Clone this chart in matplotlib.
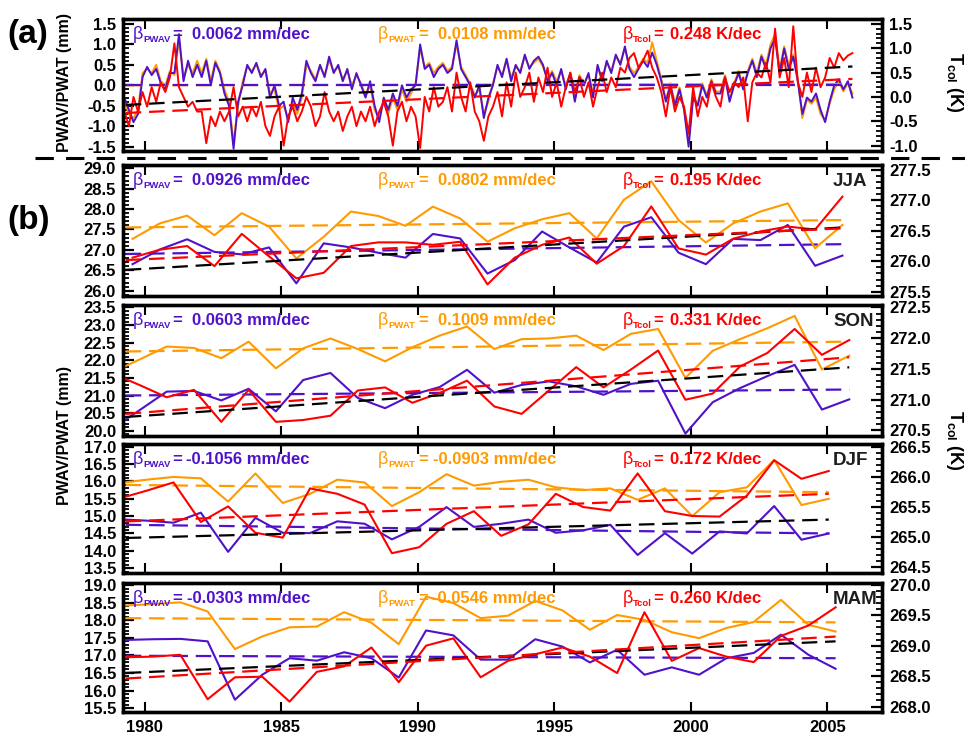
import numpy as np
import matplotlib
matplotlib.use('Agg')
import matplotlib.pyplot as plt
from matplotlib.lines import Line2D
from matplotlib.ticker import MultipleLocator, FormatStrFormatter

plt.rcParams['font.family'] = ['Liberation Sans', 'DejaVu Sans']
plt.rcParams['font.weight'] = 'bold'
plt.rcParams['mathtext.fontset'] = 'custom'
plt.rcParams['mathtext.rm'] = 'Liberation Sans'
plt.rcParams['mathtext.bf'] = 'Liberation Sans:bold'
plt.rcParams['mathtext.it'] = 'Liberation Sans:italic'

# ---------------- data ----------------
years = list(range(1979, 2006))
son_years = list(range(1978, 2006))

# Panel (a): bi-monthly anomalies 1979-2005
a_pwav = [
    -0.2, -0.3, -0.6, -0.9, -0.7, 0.2,
    0.45, 0.25, 0.4, 0.05, -0.1, 0.3,
    0.3, 1.25, 0.1, 0.6, 0.2, 0.5,
    0.2, 0.6, 0.0, 0.55, 0.3, -0.2,
    -0.5, -1.55, -0.4, 0.0, 0.5, 0.3,
    0.55, 0.2, 0.4, -0.3, 0.0, -0.5,
    -0.4, -0.9, -0.3, -0.6, -0.2, 0.6,
    0.3, 0.1, 0.5, 0.2, 0.7, 0.3,
    0.5, 0.1, 0.4, -0.1, 0.3, 0.0,
    -0.3, 0.1, -0.5, -0.9, -0.3, -0.6,
    -0.2, -0.5, 0.0, -0.3, -0.1, 0.0,
    1.0, 0.4, 0.5, 0.2, 0.4, 0.5,
    0.3, 0.4, 1.1, 0.4, 0.2, 0.0,
    -0.3, 0.0, -0.8, -0.3, 0.0, 0.5,
    0.2, 0.65, 0.1, 0.5, 0.3, 0.75,
    0.4, 0.6, 0.7, 0.5, 0.1, 0.3,
    0.0, 0.4, -0.1, 0.3, -0.4, 0.2,
    0.0, 0.3, -0.3, 0.5, 0.1, 0.6,
    0.3, 0.75, 0.5, 0.95, 0.4, 0.2,
    0.4, 0.6, 0.45, 0.8, 0.5, 0.1,
    -0.4, 0.0, -0.5, -0.1, -0.6, -1.5,
    -0.3, -0.5, 0.0, -0.3, 0.1, -0.2,
    -0.2, 0.2, -0.4, 0.0, 0.3, -0.1,
    0.3, 0.6, 0.2, 0.7, 0.4, 0.9,
    1.15, 0.3, 0.9, 0.4, 0.7, 0.1,
    -0.7, -0.3, -0.4, -0.2, -0.6, -0.9,
    -0.4, 0.0, 0.15, -0.1, 0.1, -0.3,
]
a_pwat = [
    -0.3, -0.4, -0.7, -0.8, -0.6, 0.3,
    0.4, 0.3, 0.5, 0.1, 0.0, 0.35,
    0.25, 1.1, 0.2, 0.5, 0.3, 0.6,
    0.3, 0.65, 0.1, 0.6, 0.35, -0.1,
    -0.4, -1.4, -0.5, 0.1, 0.45, 0.35,
    0.5, 0.25, 0.35, -0.2, -0.1, -0.6,
    -0.5, -0.8, -0.4, -0.7, -0.3, 0.5,
    0.35, 0.15, 0.45, 0.25, 0.6, 0.35,
    0.45, 0.15, 0.35, 0.0, 0.25, 0.05,
    -0.25, 0.0, -0.6, -0.8, -0.4, -0.7,
    -0.3, -0.6, -0.1, -0.4, -0.2, 0.05,
    0.9, 0.45, 0.55, 0.3, 0.45, 0.55,
    0.35, 0.45, 1.0, 0.45, 0.25, 0.05,
    -0.25, -0.1, -0.7, -0.4, 0.05, 0.45,
    0.25, 0.6, 0.2, 0.45, 0.35, 0.7,
    0.45, 0.55, 0.65, 0.45, 0.15, 0.35,
    0.1, 0.35, 0.0, 0.25, -0.35, 0.25,
    0.05, 0.25, -0.2, 0.45, 0.15, 0.55,
    0.35, 0.7, 0.55, 0.9, 0.45, 0.3,
    0.45, 0.65, 0.55, 1.05, 0.6, 0.15,
    -0.35, 0.05, -0.45, -0.05, -0.55, -1.35,
    -0.25, -0.45, 0.05, -0.25, 0.15, -0.15,
    -0.15, 0.25, -0.35, 0.05, 0.35, -0.05,
    0.35, 0.65, 0.3, 0.75, 0.5, 1.0,
    1.25, 0.4, 0.95, 0.5, 0.75, 0.15,
    -0.8, -0.35, -0.45, -0.3, -0.7, -0.85,
    -0.45, -0.1, 0.1, -0.15, 0.05, -0.2,
]
a_tcol = [
    -0.4, -0.3, -0.6, 0.0, -0.3, 0.1,
    -0.2, 0.2, -0.1, 0.3, 0.1, 0.4,
    1.1, 0.2, 0.0, -0.2, -0.1, -0.3,
    -0.3, -0.95, -0.4, -0.6, -0.3, -0.5,
    -0.3, 0.2, -0.4, -0.2, -0.5, -0.2,
    -0.4, -0.1, -0.6, -0.8, -0.4, -0.2,
    -1.0, -0.4, -0.2, -0.5, -0.3, 0.0,
    -0.2, -0.6, -0.4, 0.1, -0.3, -0.5,
    -0.3, -0.7, -0.4, -0.2, -0.6, -0.3,
    -0.5, -0.2, -0.6, -0.3, -0.1, -0.4,
    -1.0, -0.3, -0.1, -0.5, -0.2, -0.4,
    -1.05, 0.0, -0.3, 0.2, -0.2, -0.1,
    0.2, -0.3, 0.5, 0.0, -0.3, 0.3,
    -0.3, -0.5, -0.9, -0.4, -0.2, 0.1,
    -0.4, 0.3, -0.2, 0.5, 0.0, 0.2,
    0.5, -0.1, 0.4, 0.1, 0.6, 0.0,
    0.3, -0.2, 0.2, 0.5, 0.1, 0.4,
    0.0, 0.3, -0.2, 0.2, 0.5, 0.1,
    0.4, 0.2, 0.6, 0.5, 0.8, 0.9,
    0.6, 0.75, 0.95, 0.6, 0.4, 0.1,
    -0.4, 0.2, -0.3, 0.0, -0.2, -0.75,
    0.2, -0.4, 0.0, -0.2, 0.3, 0.0,
    -0.2, 0.4, 0.1, 0.3, 0.2, 0.4,
    -0.5, 0.3, 0.5, 0.4, 0.7, 0.3,
    1.4, 0.4, 0.8, 0.2, 1.45, 0.3,
    0.0, 0.5, 0.1, 0.6, 0.2, 0.4,
    0.8, 0.6, 0.9, 0.75, 0.85, 0.9,
]
a_trend_pwav = [0.0, 0.0]
a_trend_pwat = [0.0, 0.03]
a_trend_tcol = [-0.33, 0.37]
a_trend_black = [-0.48, 0.46]

# Seasonal series
jja_pwat = [27.27, 27.65, 27.84, 27.36, 27.90, 27.57, 26.79, 27.32, 27.94, 27.83, 27.59, 28.06, 27.77,
            27.20, 27.53, 27.75, 27.90, 27.28, 28.23, 28.68, 27.73, 27.18, 27.65, 27.94, 28.14, 27.04, 27.61]
jja_pwav = [26.65, 27.01, 27.26, 26.95, 26.89, 27.06, 26.18, 27.16, 27.06, 26.93, 26.81, 27.39, 27.28,
            26.42, 26.75, 27.45, 27.06, 26.69, 27.57, 27.80, 26.93, 26.65, 27.27, 27.24, 27.61, 26.61, 26.86]
jja_tcol = [276.06, 276.19, 276.25, 275.92, 276.45, 276.08, 275.72, 275.81, 276.25, 276.31, 276.31, 276.27, 276.32,
            275.62, 276.06, 276.27, 276.39, 275.96, 276.25, 276.90, 276.21, 276.11, 276.37, 276.49, 276.57, 276.52, 277.06]
jja_trend_pwat = [27.55, 27.73]
jja_trend_pwav = [26.90, 27.14]
jja_trend_tcol = [276.02, 276.54]
jja_trend_black = [26.51, 27.55]

son_pwat = [21.66, 22.02, 22.39, 22.35, 22.06, 22.53, 21.77, 22.34, 22.62, 22.32, 21.97, 22.37, 22.70, 22.96,
            22.32, 22.60, 22.62, 22.70, 22.29, 22.75, 22.89, 21.50, 22.27, 22.60, 22.91, 23.26, 21.74, 22.13]
son_pwav = [20.06, 20.58, 21.11, 21.13, 20.86, 21.19, 20.55, 21.44, 21.64, 20.93, 20.64, 21.02, 21.24, 21.73,
            21.08, 21.30, 21.40, 21.26, 21.02, 21.33, 21.42, 19.92, 20.81, 21.21, 21.55, 21.87, 20.60, 20.89]
son_tcol = [271.43, 271.24, 271.04, 271.16, 270.64, 271.16, 270.64, 270.67, 270.74, 271.15, 271.20, 270.95, 271.11, 271.31,
            270.89, 270.77, 271.15, 271.53, 271.20, 271.49, 271.80, 271.00, 271.10, 271.54, 271.76, 272.15, 271.73, 271.97]
son_trend_pwat = [22.25, 22.53]
son_trend_pwav = [21.00, 21.17]
son_trend_tcol = [270.77, 271.69]
son_trend_black = [20.39, 21.80]

djf_pwat = [15.95, 16.05, 16.13, 16.09, 15.42, 16.23, 15.38, 15.64, 16.05, 15.97, 15.29, 15.69, 16.21, 15.88,
            15.99, 16.05, 15.83, 15.75, 15.80, 15.47, 15.80, 15.00, 15.69, 15.83, 16.62, 15.32, 15.50]
djf_pwav = [14.91, 14.87, 14.81, 15.10, 13.97, 14.95, 14.52, 14.51, 14.85, 14.78, 14.33, 14.69, 15.26, 14.69,
            14.78, 14.90, 14.52, 14.59, 14.75, 13.88, 14.51, 13.92, 14.56, 14.50, 15.29, 14.32, 14.50]
djf_tcol = [265.64, 265.77, 265.91, 265.25, 265.51, 265.07, 264.99, 265.81, 265.72, 265.54, 264.73, 264.83, 265.22, 265.43,
            265.02, 265.21, 265.72, 265.50, 265.44, 266.06, 265.43, 265.35, 265.34, 265.69, 266.28, 265.97, 266.10]
djf_trend_pwat = [15.90, 15.69]
djf_trend_pwav = [14.75, 14.50]
djf_trend_tcol = [265.26, 265.72]
djf_trend_black = [14.37, 14.90]

mam_pwat = [18.42, 18.46, 18.51, 18.25, 17.18, 17.54, 17.80, 17.82, 18.23, 17.93, 17.32, 18.67, 18.49, 18.06,
            18.13, 18.55, 18.28, 17.73, 18.15, 18.01, 17.66, 17.49, 17.78, 17.95, 18.58, 17.87, 17.68]
mam_pwav = [17.44, 17.46, 17.47, 17.40, 15.74, 16.45, 16.92, 16.85, 17.09, 16.92, 16.37, 17.71, 17.57, 16.88,
            16.88, 17.46, 17.25, 16.80, 17.16, 16.45, 16.66, 16.45, 16.92, 17.07, 17.59, 17.02, 16.62]
mam_tcol = [268.81, 268.82, 268.85, 268.12, 268.48, 268.49, 268.08, 268.57, 268.66, 268.97, 268.40, 269.00, 269.12, 268.48,
            268.75, 268.86, 268.97, 268.82, 268.55, 269.55, 268.75, 268.96, 268.82, 268.73, 269.16, 269.33, 269.63]
mam_trend_pwat = [18.06, 17.94]
mam_trend_pwav = [16.99, 16.92]
mam_trend_tcol = [268.46, 269.15]
mam_trend_black = [16.50, 17.40]

season_names = ['JJA', 'SON', 'DJF', 'MAM']
beta_pwav = ['0.0062 mm/dec', '0.0926 mm/dec', '0.0603 mm/dec', '-0.1056 mm/dec', '-0.0303 mm/dec']
beta_pwat = ['0.0108 mm/dec', '0.0802 mm/dec', '0.1009 mm/dec', '-0.0903 mm/dec', '-0.0546 mm/dec']
beta_tcol = ['0.248 K/dec', '0.195 K/dec', '0.331 K/dec', '0.172 K/dec', '0.260 K/dec']

# ---------------- style / layout ----------------
W, H = 965, 736
PURPLE = '#4f12c9'
ORANGE = '#ff9a00'
RED = '#ff0000'
DASH = (0, (7, 3.5))
XLIM = (1979.2, 2007.0)

fig = plt.figure(figsize=(W / 100, H / 100), dpi=100)


def fx(px):
    return px / W


def fy(py):
    return 1 - py / H


def make_axes(l, t, r, b, ylim_l, ylim_r, show_x):
    ax = fig.add_axes([l / W, 1 - b / H, (r - l) / W, (b - t) / H])
    ax2 = ax.twinx()
    ax.set_xlim(*XLIM)
    ax.set_ylim(*ylim_l)
    ax2.set_ylim(*ylim_r)
    for a in (ax, ax2):
        for s in a.spines.values():
            s.set_linewidth(2.4)
        a.yaxis.set_major_locator(MultipleLocator(0.5))
        a.yaxis.set_minor_locator(MultipleLocator(0.1))
        a.yaxis.set_major_formatter(FormatStrFormatter('%.1f'))
    ax.xaxis.set_major_locator(MultipleLocator(5))
    ax.tick_params(axis='x', which='major', direction='in', length=7, width=1.5,
                   top=True, bottom=True, labelbottom=show_x, labelsize=12, pad=6)
    ax.tick_params(axis='y', which='major', direction='in', length=8, width=1.6,
                   left=True, right=False, labelsize=12, pad=5)
    ax.tick_params(axis='y', which='minor', direction='in', length=4, width=1.3,
                   left=True, right=False)
    ax2.tick_params(axis='y', which='major', direction='in', length=8, width=1.6,
                    right=True, left=False, labelsize=12, pad=5)
    ax2.tick_params(axis='y', which='minor', direction='in', length=4, width=1.3,
                    right=True, left=False)
    ax2.set_autoscale_on(False)
    return ax, ax2


def beta_row(top, vals):
    yb = top + 20
    specs = [(133, 'PWAV', 172, 310, PURPLE), (378, 'PWAT', 418, 556, ORANGE),
             (623, 'Tcol', 653, 761, RED)]
    for (xb, sub, xe, xend, col), val in zip(specs, vals):
        fig.text(fx(xb), fy(yb), '\u03b2', fontsize=13, fontweight='normal', color=col, va='baseline')
        fig.text(fx(xb + 10), fy(yb + 3), sub, fontsize=6.8, color=col, va='baseline')
        fig.text(fx(xe), fy(yb), '=', fontsize=12, color=col, va='baseline')
        fig.text(fx(xend), fy(yb), val, fontsize=12, color=col, va='baseline', ha='right')


# ---------------- panel (a) ----------------
a_rect = (123, 19, 882, 151)
ax, ax2 = make_axes(*a_rect, (-1.605, 1.62), (-1.11, 1.60), False)
a_time = 1979 + (np.arange(len(a_pwav)) + 0.5) / 6.0
ax.plot(a_time, a_pwat, color=ORANGE, lw=1.4)
ax.plot(a_time, a_pwav, color=PURPLE, lw=1.4)
tx = [1979.3, a_time[-1]]
ax.plot(tx, a_trend_pwat, color=ORANGE, lw=1.6, ls=DASH)
ax.plot(tx, a_trend_pwav, color=PURPLE, lw=1.6, ls=DASH)
ax2.plot(a_time, a_tcol, color=RED, lw=1.4)
ax2.plot(tx, a_trend_tcol, color=RED, lw=1.6, ls=DASH)
# black dashed trend is in left-axis units, drawn on top of everything
ax2.plot(tx, a_trend_black, color='black', lw=1.6, ls=DASH, transform=ax.transData)
beta_row(a_rect[1], [beta_pwav[0], beta_pwat[0], beta_tcol[0]])

# ---------------- seasonal panels ----------------
rects = [(123, 165, 882, 296), (123, 305, 882, 436), (123, 444, 882, 573), (123, 583, 882, 712)]
ylims_l = [(25.87, 29.08), (19.85, 23.57), (13.36, 17.08), (15.39, 19.06)]
ylims_r = [(275.43, 277.58), (270.41, 272.54), (264.40, 266.55), (267.91, 270.03)]
offsets = [0.55, 0.8, 0.05, 0.3]
season_years = [years, son_years, years, years]
pwat_all = [jja_pwat, son_pwat, djf_pwat, mam_pwat]
pwav_all = [jja_pwav, son_pwav, djf_pwav, mam_pwav]
tcol_all = [jja_tcol, son_tcol, djf_tcol, mam_tcol]
tr_pwat = [jja_trend_pwat, son_trend_pwat, djf_trend_pwat, mam_trend_pwat]
tr_pwav = [jja_trend_pwav, son_trend_pwav, djf_trend_pwav, mam_trend_pwav]
tr_tcol = [jja_trend_tcol, son_trend_tcol, djf_trend_tcol, mam_trend_tcol]
tr_black = [jja_trend_black, son_trend_black, djf_trend_black, mam_trend_black]

for i in range(4):
    l, t, r, b = rects[i]
    ax, ax2 = make_axes(l, t, r, b, ylims_l[i], ylims_r[i], i == 3)
    x = np.array(season_years[i]) + offsets[i]
    tx = [1979.3, x[-1]]
    ax.plot(tx, tr_pwat[i], color=ORANGE, lw=1.6, ls=DASH)
    ax.plot(tx, tr_pwav[i], color=PURPLE, lw=1.6, ls=DASH)
    ax.plot(x, pwat_all[i], color=ORANGE, lw=1.5)
    ax.plot(x, pwav_all[i], color=PURPLE, lw=1.5)
    ax2.plot(x, tcol_all[i], color=RED, lw=1.5)
    ax2.plot(tx, tr_black[i], color='black', lw=1.6, ls=DASH, transform=ax.transData)
    ax2.plot(tx, tr_tcol[i], color=RED, lw=1.6, ls=DASH)
    beta_row(t, [beta_pwav[i + 1], beta_pwat[i + 1], beta_tcol[i + 1]])
    fig.text(fx(833), fy(t + 21), season_names[i], fontsize=13.5, color='#1e1e1e', va='baseline')

# ---------------- labels ----------------
fig.text(fx(7), fy(35), '(a)', fontsize=24, va='center', ha='left')
fig.text(fx(7), fy(220), '(b)', fontsize=24, va='center', ha='left')
fig.text(fx(65), fy(82), 'PWAV/PWAT (mm)', rotation=90, fontsize=11.5, ha='center', va='center')
fig.text(fx(65), fy(435), 'PWAV/PWAT (mm)', rotation=90, fontsize=11.5, ha='center', va='center')
fig.text(fx(955), fy(82), r'T$_{\mathbf{col}}$ (K)', rotation=-90, fontsize=13, ha='center', va='center')
fig.text(fx(955), fy(440), r'T$_{\mathbf{col}}$ (K)', rotation=-90, fontsize=13, ha='center', va='center')

fig.add_artist(Line2D([fx(35), fx(965)], [fy(158), fy(158)], transform=fig.transFigure,
                      color='black', lw=2.2, ls=(0, (6, 4))))

fig.savefig('out.png', dpi=100)
